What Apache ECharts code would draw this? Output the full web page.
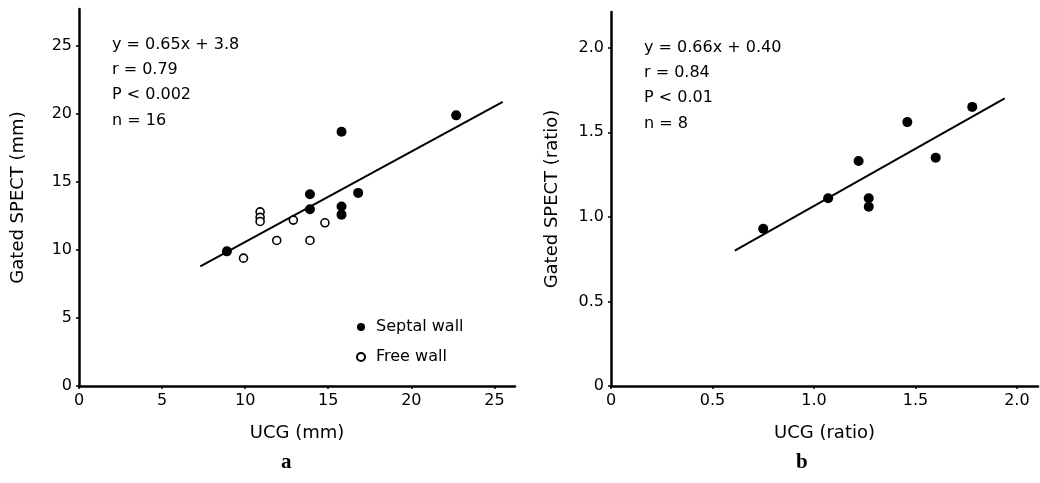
<!DOCTYPE html>
<html>
<head>
<meta charset="utf-8">
<script src="https://cdn.jsdelivr.net/npm/echarts@6/dist/echarts.min.js"></script>
<style>
html,body{margin:0;padding:0;background:#fff;}
#chart{width:1040px;height:483px;}
</style>
</head>
<body>
<div id="chart"></div>
<script>
// Panel a: wall thickness (mm)
const septalA = [[8.9, 9.9], [13.9, 14.1], [13.9, 13.0], [15.8, 18.7], [15.8, 13.2], [15.8, 12.6], [16.8, 14.2], [22.7, 19.9]];
const freeA = [[9.9, 9.4], [10.9, 12.8], [10.9, 12.4], [10.9, 12.1], [11.9, 10.7], [12.9, 12.2], [13.9, 10.7], [14.8, 12.0]];
const fitA = [[7.3, 8.8], [25.5, 20.9]];
const ticksA = [0, 5, 10, 15, 20, 25];
const statsA = ['y = 0.65x + 3.8', 'r = 0.79', 'P < 0.002', 'n = 16'];

// Panel b: ratio
const pointsB = [[0.75, 0.93], [1.07, 1.11], [1.22, 1.33], [1.27, 1.11], [1.27, 1.06], [1.46, 1.56], [1.60, 1.35], [1.78, 1.65]];
const fitB = [[0.61, 0.80], [1.94, 1.70]];
const ticksB = [0, 0.5, 1.0, 1.5, 2.0];
const statsB = ['y = 0.66x + 0.40', 'r = 0.84', 'P < 0.01', 'n = 8'];

const FONT = 'DejaVu Sans';
const chart = echarts.init(document.getElementById('chart'));

function axisCommon(ticks, fmt) {
  return {
    type: 'value',
    splitLine: { show: false },
    axisLine: { show: true, onZero: false, lineStyle: { color: '#000', width: 2.5 } },
    axisTick: { show: true, length: 3, lineStyle: { color: '#000', width: 1.5 }, customValues: ticks },
    axisLabel: { color: '#000', fontFamily: FONT, fontSize: 16, margin: 7, customValues: ticks, formatter: fmt }
  };
}
const fmtA = v => String(v);
const fmtB = v => (v === 0 ? '0' : v.toFixed(1));
const nameStyle = { fontFamily: FONT, fontSize: 18, color: '#000' };

const option = {
  backgroundColor: '#fff',
  animation: false,
  grid: [
    { left: 79, top: 9, width: 436, height: 377 },
    { left: 611, top: 12, width: 427, height: 374 }
  ],
  xAxis: [
    Object.assign(axisCommon(ticksA, fmtA), { gridIndex: 0, min: 0, max: 26.24, name: 'UCG (mm)', nameLocation: 'middle', nameGap: 38, nameTextStyle: nameStyle }),
    Object.assign(axisCommon(ticksB, fmtB), { gridIndex: 1, min: 0, max: 2.104, name: 'UCG (ratio)', nameLocation: 'middle', nameGap: 38, nameTextStyle: nameStyle })
  ],
  yAxis: [
    Object.assign(axisCommon(ticksA, fmtA), { gridIndex: 0, min: 0, max: 27.72, name: 'Gated SPECT (mm)', nameLocation: 'middle', nameGap: 52, nameTextStyle: nameStyle }),
    Object.assign(axisCommon(ticksB, fmtB), { gridIndex: 1, min: 0, max: 2.211, name: 'Gated SPECT (ratio)', nameLocation: 'middle', nameGap: 50, nameTextStyle: nameStyle })
  ],
  legend: {
    orient: 'vertical',
    left: 351, top: 313,
    itemWidth: 8, itemHeight: 8, itemGap: 12,
    icon: 'circle',
    data: ['Septal wall', 'Free wall'],
    textStyle: { fontFamily: FONT, fontSize: 16, color: '#000', lineHeight: 18, padding: [0, 0, 0, 6] }
  },
  series: [
    { name: 'Septal wall', type: 'scatter', xAxisIndex: 0, yAxisIndex: 0, data: septalA, symbol: 'circle', symbolSize: 10, itemStyle: { color: '#000', opacity: 1 }, z: 3 },
    { name: 'Free wall', type: 'scatter', xAxisIndex: 0, yAxisIndex: 0, data: freeA, symbol: 'circle', symbolSize: 8, itemStyle: { color: '#fff', borderColor: '#000', borderWidth: 1.6, opacity: 1 }, z: 3 },
    { name: 'fitA', type: 'line', xAxisIndex: 0, yAxisIndex: 0, data: fitA, showSymbol: false, symbol: 'none', lineStyle: { color: '#000', width: 2 }, z: 2 },
    { name: 'pointsB', type: 'scatter', xAxisIndex: 1, yAxisIndex: 1, data: pointsB, symbol: 'circle', symbolSize: 10, itemStyle: { color: '#000', opacity: 1 }, z: 3 },
    { name: 'fitB', type: 'line', xAxisIndex: 1, yAxisIndex: 1, data: fitB, showSymbol: false, symbol: 'none', lineStyle: { color: '#000', width: 2 }, z: 2 }
  ],
  graphic: [
    { type: 'text', left: 112, top: 32, style: { text: statsA.join('\n'), font: '16px "' + FONT + '"', fill: '#000', lineHeight: 25.3 } },
    { type: 'text', left: 644, top: 35, style: { text: statsB.join('\n'), font: '16px "' + FONT + '"', fill: '#000', lineHeight: 25.3 } },
    { type: 'text', left: 281, top: 452, style: { text: 'a', font: 'bold 21px "Liberation Serif"', fill: '#000' } },
    { type: 'text', left: 796, top: 452, style: { text: 'b', font: 'bold 21px "Liberation Serif"', fill: '#000' } }
  ]
};
chart.setOption(option);
</script>
</body>
</html>
